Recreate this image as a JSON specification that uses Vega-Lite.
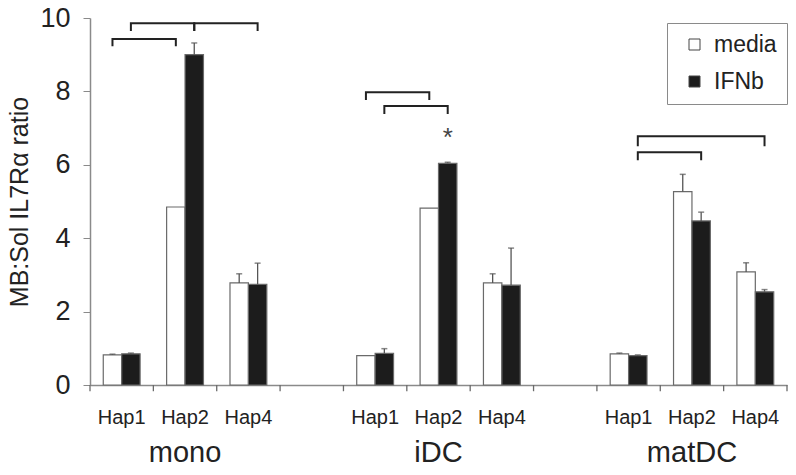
{
  "$schema": "https://vega.github.io/schema/vega-lite/v6.json",
  "width": 697,
  "height": 367,
  "autosize": "none",
  "padding": {"left": 90, "top": 18, "right": 9, "bottom": 90},
  "background": "white",
  "config": {"view": {"stroke": null}, "font": "Liberation Sans"},
  "datasets": {
    "bars": [
      {"cell": "mono", "hap": "Hap1", "cat": "mono|Hap1", "trt": "media", "value": 0.82, "upper": 0.84},
      {"cell": "mono", "hap": "Hap1", "cat": "mono|Hap1", "trt": "IFNb", "value": 0.85, "upper": 0.87},
      {"cell": "mono", "hap": "Hap2", "cat": "mono|Hap2", "trt": "media", "value": 4.85, "upper": 4.85},
      {"cell": "mono", "hap": "Hap2", "cat": "mono|Hap2", "trt": "IFNb", "value": 9.0, "upper": 9.32},
      {"cell": "mono", "hap": "Hap4", "cat": "mono|Hap4", "trt": "media", "value": 2.78, "upper": 3.03},
      {"cell": "mono", "hap": "Hap4", "cat": "mono|Hap4", "trt": "IFNb", "value": 2.74, "upper": 3.32},
      {"cell": "iDC", "hap": "Hap1", "cat": "iDC|Hap1", "trt": "media", "value": 0.8, "upper": 0.8},
      {"cell": "iDC", "hap": "Hap1", "cat": "iDC|Hap1", "trt": "IFNb", "value": 0.86, "upper": 0.99},
      {"cell": "iDC", "hap": "Hap2", "cat": "iDC|Hap2", "trt": "media", "value": 4.82, "upper": 4.82},
      {"cell": "iDC", "hap": "Hap2", "cat": "iDC|Hap2", "trt": "IFNb", "value": 6.04, "upper": 6.07},
      {"cell": "iDC", "hap": "Hap4", "cat": "iDC|Hap4", "trt": "media", "value": 2.78, "upper": 3.03},
      {"cell": "iDC", "hap": "Hap4", "cat": "iDC|Hap4", "trt": "IFNb", "value": 2.72, "upper": 3.73},
      {"cell": "matDC", "hap": "Hap1", "cat": "matDC|Hap1", "trt": "media", "value": 0.85, "upper": 0.87},
      {"cell": "matDC", "hap": "Hap1", "cat": "matDC|Hap1", "trt": "IFNb", "value": 0.8, "upper": 0.82},
      {"cell": "matDC", "hap": "Hap2", "cat": "matDC|Hap2", "trt": "media", "value": 5.27, "upper": 5.74},
      {"cell": "matDC", "hap": "Hap2", "cat": "matDC|Hap2", "trt": "IFNb", "value": 4.47, "upper": 4.71},
      {"cell": "matDC", "hap": "Hap4", "cat": "matDC|Hap4", "trt": "media", "value": 3.08, "upper": 3.33},
      {"cell": "matDC", "hap": "Hap4", "cat": "matDC|Hap4", "trt": "IFNb", "value": 2.54, "upper": 2.6}
    ],
    "brackets": [
      {"id": "m1", "ord": 0, "cat": "mono|Hap1", "trt": "media", "y": 9.26},
      {"id": "m1", "ord": 1, "cat": "mono|Hap1", "trt": "media", "y": 9.43},
      {"id": "m1", "ord": 2, "cat": "mono|Hap2", "trt": "media", "y": 9.43},
      {"id": "m1", "ord": 3, "cat": "mono|Hap2", "trt": "media", "y": 9.26},
      {"id": "m2", "ord": 0, "cat": "mono|Hap1", "trt": "IFNb", "y": 9.67},
      {"id": "m2", "ord": 1, "cat": "mono|Hap1", "trt": "IFNb", "y": 9.86},
      {"id": "m2", "ord": 2, "cat": "mono|Hap2", "trt": "IFNb", "y": 9.86},
      {"id": "m2", "ord": 3, "cat": "mono|Hap2", "trt": "IFNb", "y": 9.67},
      {"id": "m3", "ord": 0, "cat": "mono|Hap2", "trt": "IFNb", "y": 9.67},
      {"id": "m3", "ord": 1, "cat": "mono|Hap2", "trt": "IFNb", "y": 9.86},
      {"id": "m3", "ord": 2, "cat": "mono|Hap4", "trt": "IFNb", "y": 9.86},
      {"id": "m3", "ord": 3, "cat": "mono|Hap4", "trt": "IFNb", "y": 9.67},
      {"id": "i1", "ord": 0, "cat": "iDC|Hap1", "trt": "media", "y": 7.79},
      {"id": "i1", "ord": 1, "cat": "iDC|Hap1", "trt": "media", "y": 7.98},
      {"id": "i1", "ord": 2, "cat": "iDC|Hap2", "trt": "media", "y": 7.98},
      {"id": "i1", "ord": 3, "cat": "iDC|Hap2", "trt": "media", "y": 7.79},
      {"id": "i2", "ord": 0, "cat": "iDC|Hap1", "trt": "IFNb", "y": 7.41},
      {"id": "i2", "ord": 1, "cat": "iDC|Hap1", "trt": "IFNb", "y": 7.6},
      {"id": "i2", "ord": 2, "cat": "iDC|Hap2", "trt": "IFNb", "y": 7.6},
      {"id": "i2", "ord": 3, "cat": "iDC|Hap2", "trt": "IFNb", "y": 7.41},
      {"id": "d1", "ord": 0, "cat": "matDC|Hap1", "trt": "IFNb", "y": 6.53},
      {"id": "d1", "ord": 1, "cat": "matDC|Hap1", "trt": "IFNb", "y": 6.78},
      {"id": "d1", "ord": 2, "cat": "matDC|Hap4", "trt": "IFNb", "y": 6.78},
      {"id": "d1", "ord": 3, "cat": "matDC|Hap4", "trt": "IFNb", "y": 6.53},
      {"id": "d2", "ord": 0, "cat": "matDC|Hap1", "trt": "IFNb", "y": 6.15},
      {"id": "d2", "ord": 1, "cat": "matDC|Hap1", "trt": "IFNb", "y": 6.34},
      {"id": "d2", "ord": 2, "cat": "matDC|Hap2", "trt": "IFNb", "y": 6.34},
      {"id": "d2", "ord": 3, "cat": "matDC|Hap2", "trt": "IFNb", "y": 6.15}
    ],
    "stars": [
      {"cat": "iDC|Hap2", "trt": "IFNb", "y": 6.5, "t": "*"}
    ]
  },
  "encoding": {
    "x": {
      "field": "cat",
      "type": "nominal",
      "sort": null,
      "scale": {
        "type": "band",
        "domain": ["mono|Hap1", "mono|Hap2", "mono|Hap4", "gap1", "iDC|Hap1", "iDC|Hap2", "iDC|Hap4", "gap2", "matDC|Hap1", "matDC|Hap2", "matDC|Hap4"],
        "paddingInner": 0,
        "paddingOuter": 0
      },
      "axis": {
        "title": null,
        "labels": false,
        "ticks": false,
        "domainColor": "#8a8a8a",
        "domainWidth": 1.5
      }
    }
  },
  "layer": [
    {
      "data": {"name": "bars"},
      "mark": {"type": "bar", "stroke": "#6a6a6a", "strokeWidth": 1.2},
      "encoding": {
        "xOffset": {
          "field": "trt",
          "type": "nominal",
          "sort": null,
          "scale": {"domain": ["media", "IFNb"], "paddingInner": 0, "paddingOuter": 0.72}
        },
        "y": {
          "field": "value",
          "type": "quantitative",
          "scale": {"domain": [0, 10], "nice": false, "zero": true},
          "axis": {
            "values": [0, 2, 4, 6, 8, 10],
            "grid": false,
            "title": "MB:Sol IL7Rα ratio",
            "titleFont": "Liberation Sans",
            "titleFontSize": 25,
            "titleFontWeight": "normal",
            "titleColor": "#222",
            "titlePadding": 7,
            "labelFont": "Liberation Sans",
            "labelFontSize": 27,
            "labelColor": "#222",
            "labelPadding": 13,
            "tickSize": 7,
            "tickColor": "#8a8a8a",
            "domainColor": "#8a8a8a",
            "domainWidth": 1.5
          }
        },
        "fill": {
          "field": "trt",
          "type": "nominal",
          "scale": {"domain": ["media", "IFNb"], "range": ["#ffffff", "#1c1c1c"]},
          "legend": {
            "title": null,
            "orient": "none",
            "legendX": 577,
            "legendY": 5,
            "strokeColor": "#8a8a8a",
            "fillColor": "white",
            "padding": 10,
            "symbolType": "square",
            "symbolSize": 121,
            "symbolStrokeColor": "#444",
            "symbolStrokeWidth": 1,
            "symbolOffset": 6,
            "labelFont": "Liberation Sans",
            "labelFontSize": 23,
            "labelColor": "#222",
            "labelOffset": 8,
            "rowPadding": 13
          }
        }
      }
    },
    {
      "data": {"name": "bars"},
      "transform": [{"filter": "datum.trt == 'media'"}],
      "mark": {"type": "rule", "color": "#6a6a6a", "strokeWidth": 1.3},
      "encoding": {
        "x": {"field": "cat", "type": "nominal", "bandPosition": 0},
        "y": {"datum": 0, "type": "quantitative"},
        "y2": {"datum": -0.17}
      }
    },
    {
      "data": {"name": "bars"},
      "transform": [{"filter": "datum.trt == 'media' && datum.hap == 'Hap4'"}],
      "mark": {"type": "rule", "color": "#6a6a6a", "strokeWidth": 1.3},
      "encoding": {
        "x": {"field": "cat", "type": "nominal", "bandPosition": 1},
        "y": {"datum": 0, "type": "quantitative"},
        "y2": {"datum": -0.17}
      }
    },
    {
      "data": {"name": "bars"},
      "transform": [{"filter": "datum.upper > datum.value"}],
      "mark": {"type": "rule", "color": "#555", "strokeWidth": 1.3},
      "encoding": {
        "xOffset": {"field": "trt", "type": "nominal", "sort": null},
        "y": {"field": "value", "type": "quantitative"},
        "y2": {"field": "upper"}
      }
    },
    {
      "data": {"name": "bars"},
      "transform": [{"filter": "datum.upper > datum.value"}],
      "mark": {"type": "tick", "color": "#555", "size": 6, "thickness": 1.5, "orient": "horizontal"},
      "encoding": {
        "xOffset": {"field": "trt", "type": "nominal", "sort": null},
        "y": {"field": "upper", "type": "quantitative"}
      }
    },
    {
      "data": {"name": "brackets"},
      "mark": {"type": "line", "color": "#222", "strokeWidth": 2, "strokeJoin": "miter", "strokeCap": "square"},
      "encoding": {
        "xOffset": {"field": "trt", "type": "nominal", "sort": null},
        "y": {"field": "y", "type": "quantitative"},
        "detail": {"field": "id"},
        "order": {"field": "ord", "type": "quantitative"}
      }
    },
    {
      "data": {"name": "stars"},
      "mark": {"type": "text", "fontSize": 26, "color": "#444", "baseline": "alphabetic", "font": "Liberation Sans"},
      "encoding": {
        "xOffset": {"field": "trt", "type": "nominal", "sort": null},
        "y": {"field": "y", "type": "quantitative"},
        "text": {"field": "t"}
      }
    },
    {
      "data": {"name": "bars"},
      "transform": [{"filter": "datum.trt == 'media'"}],
      "mark": {"type": "text", "fontSize": 20, "color": "#222", "baseline": "alphabetic", "font": "Liberation Sans"},
      "encoding": {
        "y": {"datum": -1.05, "type": "quantitative"},
        "text": {"field": "hap"}
      }
    },
    {
      "data": {"name": "bars"},
      "transform": [{"filter": "datum.trt == 'media' && datum.hap == 'Hap2'"}],
      "mark": {"type": "text", "fontSize": 29, "color": "#222", "baseline": "alphabetic", "font": "Liberation Sans"},
      "encoding": {
        "y": {"datum": -2.11, "type": "quantitative"},
        "text": {"field": "cell"}
      }
    }
  ]
}
